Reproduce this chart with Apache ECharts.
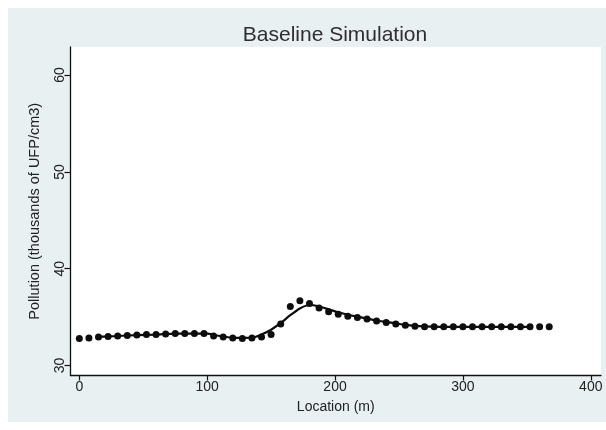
<!DOCTYPE html>
<html>
<head>
<meta charset="utf-8">
<title>Baseline Simulation</title>
<script src="https://cdn.jsdelivr.net/npm/echarts@6/dist/echarts.min.js"></script>
<style>
  html, body { margin: 0; padding: 0; background: #fff; }
  #chart { width: 606px; height: 430px; }
</style>
</head>
<body>
<div id="chart"></div>
<script>
// Measured pollution along the transect (m, thousands of UFP/cm3)
const locations = [0, 7.5, 15, 22.5, 30, 37.5, 45, 52.5, 60, 67.5,
  75, 82.5, 90, 97.5, 105, 112.5, 120, 127.5, 135, 142.5,
  150, 157.5, 165, 172.5, 180, 187.5, 195, 202.5, 210, 217.5,
  225, 232.5, 240, 247.5, 255, 262.5, 270, 277.5, 285, 292.5,
  300, 307.5, 315, 322.5, 330, 337.5, 345, 352.5, 360, 367.5];
const observed = [32.8, 32.85, 32.95, 33.0, 33.05, 33.1, 33.15, 33.2, 33.2, 33.25,
  33.3, 33.3, 33.3, 33.3, 33.05, 32.95, 32.85, 32.8, 32.85, 32.95,
  33.2, 34.3, 36.1, 36.7, 36.4, 35.95, 35.55, 35.3, 35.1, 34.95,
  34.8, 34.6, 34.45, 34.3, 34.15, 34.05, 34.0, 34.0, 34.0, 34.0,
  34.0, 34.0, 34.0, 34.0, 34.0, 34.0, 34.0, 34.0, 34.0, 34.0];

// Simulated baseline curve
const fitLocations = [15, 30, 45, 60, 75, 90, 100, 107.5, 115, 122.5, 130, 137.5, 142.5,
  150, 157.5, 165, 172.5, 180, 187.5, 195, 202.5, 210, 217.5,
  225, 232.5, 240, 247.5, 255, 262.5, 270, 285, 300, 320, 340, 352.5];
const fitValues = [32.95, 33.05, 33.15, 33.2, 33.3, 33.3, 33.3, 33.1, 32.95, 32.85, 32.85, 32.95, 33.2,
  33.7, 34.4, 35.2, 35.9, 36.25, 36.1, 35.8, 35.5, 35.25, 35.05,
  34.85, 34.65, 34.5, 34.35, 34.2, 34.1, 34.05, 34.0, 34.0, 34.0, 34.0, 34.0];

// Axis ticks
const xTicks = [0, 100, 200, 300, 400];
const yTicks = [30, 40, 50, 60];

const font = '"Liberation Sans", Arial, sans-serif';
const chart = echarts.init(document.getElementById('chart'), null, { renderer: 'canvas' });

chart.setOption({
  animation: false,
  backgroundColor: '#e9f0f2',
  graphic: [
    { type: 'rect', shape: { x: 0, y: 0, width: 606, height: 8 }, style: { fill: '#fff' }, silent: true },
    { type: 'rect', shape: { x: 0, y: 0, width: 8, height: 430 }, style: { fill: '#fff' }, silent: true },
    { type: 'rect', shape: { x: 0, y: 422, width: 606, height: 8 }, style: { fill: '#fff' }, silent: true }
  ],
  title: {
    text: 'Baseline Simulation',
    left: 330,
    top: 20,
    textAlign: 'center',
    textStyle: { fontFamily: font, fontSize: 21, fontWeight: 'normal', color: '#2e2e2e' }
  },
  grid: {
    left: 70.5, right: 5, top: 47, bottom: 54.5,
    show: true, backgroundColor: '#ffffff', borderWidth: 0
  },
  xAxis: {
    type: 'value',
    min: -6.9, max: 408,
    name: 'Location (m)',
    nameLocation: 'middle',
    nameGap: 25,
    nameTextStyle: { fontFamily: font, fontSize: 14, color: '#222' },
    axisLine: { show: true, onZero: false, lineStyle: { color: '#111', width: 1.3 } },
    axisTick: { show: true, customValues: xTicks, length: 5, lineStyle: { color: '#111', width: 1.2 } },
    axisLabel: { customValues: xTicks, margin: 5, fontFamily: font, fontSize: 14, color: '#222' },
    splitLine: { show: false }
  },
  yAxis: {
    type: 'value',
    min: 28.97, max: 62.9,
    name: 'Pollution (thousands of UFP/cm3)',
    nameLocation: 'middle',
    nameGap: 28,
    nameTextStyle: { fontFamily: font, fontSize: 14.5, color: '#222' },
    axisLine: { show: true, onZero: false, lineStyle: { color: '#111', width: 1.3 } },
    axisTick: { show: true, customValues: yTicks, length: 6, lineStyle: { color: '#111', width: 1.2 } },
    axisLabel: { customValues: yTicks, rotate: 90, margin: 3, fontFamily: font, fontSize: 14, color: '#222' },
    splitLine: { show: false }
  },
  series: [
    {
      type: 'scatter',
      data: locations.map((x, i) => [x, observed[i]]),
      symbol: 'circle',
      symbolSize: 7,
      itemStyle: { color: '#0d0d0d', opacity: 1 },
      z: 3
    },
    {
      type: 'line',
      data: fitLocations.map((x, i) => [x, fitValues[i]]),
      showSymbol: false,
      smooth: 0.2,
      lineStyle: { color: '#0d0d0d', width: 2.2 },
      z: 2
    }
  ]
});
</script>
</body>
</html>
